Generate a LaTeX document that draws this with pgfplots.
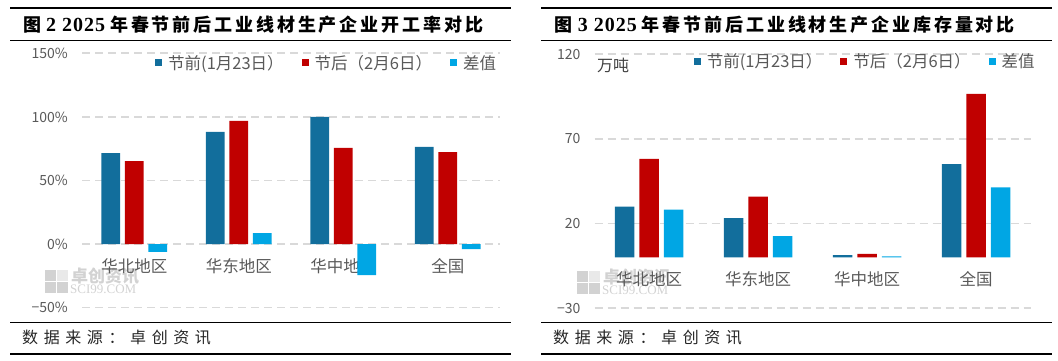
\documentclass[border=0pt]{standalone}
\usepackage{fontspec}
\usepackage{pgfplots}
\pgfplotsset{compat=1.18}
\setmainfont{Noto Sans CJK SC}
\newfontfamily\cjk{Noto Sans CJK SC}
\newfontfamily\titlecjk[LetterSpace=16]{Noto Sans CJK SC}
\newfontfamily\titlenum[LetterSpace=5]{Liberation Serif}
\newfontfamily\srcfont[LetterSpace=35]{Noto Sans CJK SC}
\newfontfamily\wmserif{Liberation Serif}
\definecolor{cblue}{HTML}{126E9C}
\definecolor{cred}{HTML}{C00000}
\definecolor{ccyan}{HTML}{00A6E4}
\definecolor{gridgray}{HTML}{D9D9D9}
\definecolor{txtgray}{HTML}{595959}
\definecolor{wm}{HTML}{D2D2D2}
\pgfplotsset{
  mybars/.style={
    scale only axis, anchor=south west,
    xmin=-0.5, xmax=3.5,
    axis line style={draw=none}, tick style={draw=none}, major tick length=0pt,
    xtick={0,1,2,3}, xticklabels={华北地区,华东地区,华中地区,全国},
    ymajorgrids, grid style={gridgray, line width=1.6pt, dash pattern=on 8pt off 5pt},
    yticklabel style={font=\fontsize{14}{14}\selectfont, text=txtgray, inner sep=0pt, anchor=east, xshift=-14pt},
    xticklabel style={font=\fontsize{16.5}{16.5}\selectfont, text=txtgray, inner sep=0pt, anchor=north},
    legend columns=3,
    legend style={draw=none, fill=none, inner sep=0pt, anchor=west,
      font=\fontsize{16.5}{16.5}\selectfont, text=txtgray,
      nodes={inner sep=0pt},
      /tikz/every odd column/.append style={column sep=6pt},
      /tikz/every even column/.append style={column sep=18pt}},
    legend image code/.code={\fill[##1] (0pt,-3.5pt) rectangle (7pt,3.5pt);},
    clip=false,
  },
}
\begin{document}
\begin{tikzpicture}[x=1pt,y=1pt]
% rules
\foreach \yy in {8,40.3,322.3,354} {
  \draw[black, line width=1.3pt] (10,361-\yy) -- (511,361-\yy);
  \draw[black, line width=1.3pt] (541,361-\yy) -- (1052,361-\yy);
}
% titles
\node[anchor=west, inner sep=0pt, font=\fontsize{18}{18}\selectfont] at (23,361-25)
  {\titlecjk\bfseries 图\hspace{5pt}{\titlenum\bfseries\fontsize{20}{20}\selectfont 2}\hspace{6pt}{\titlenum\bfseries\fontsize{20}{20}\selectfont 2025}\hspace{5pt}年春节前后工业线材生产企业开工率对比};
\node[anchor=west, inner sep=0pt, font=\fontsize{18}{18}\selectfont] at (554.7,361-25)
  {\titlecjk\bfseries 图\hspace{5pt}{\titlenum\bfseries\fontsize{20}{20}\selectfont 3}\hspace{6pt}{\titlenum\bfseries\fontsize{20}{20}\selectfont 2025}\hspace{5pt}年春节前后工业线材生产企业库存量对比};
% sources
\node[anchor=west, inner sep=0pt, font=\fontsize{16}{16}\selectfont, text=black!85] at (22,361-338) {\srcfont 数据来源：卓创资讯};
\node[anchor=west, inner sep=0pt, font=\fontsize{16}{16}\selectfont, text=black!85] at (553,361-338) {\srcfont 数据来源：卓创资讯};
% watermarks
\foreach \ox/\oy in {45/270, 577/271} {
  \fill[wm] (\ox,361-\oy) rectangle (\ox+11,361-\oy-11);
  \fill[wm!50] (\ox+12,361-\oy) rectangle (\ox+23,361-\oy-11);
  \fill[wm] (\ox,361-\oy-12) rectangle (\ox+11,361-\oy-23);
  \fill[wm] (\ox+12,361-\oy-12) rectangle (\ox+23,361-\oy-23);
  \node[anchor=west, inner sep=0pt, text=wm, font=\fontsize{17}{17}\selectfont\bfseries] at (\ox+26,361-\oy-6) {卓创资讯};
  \node[anchor=west, inner sep=0pt, text=wm, font=\fontsize{13}{13}\selectfont\wmserif] at (\ox+25,361-\oy-19) {SCI99.COM};
}
% left chart
\begin{axis}[mybars,
  at={(82pt,53.3pt)}, width=418pt, height=254.4pt,
  ymin=-50, ymax=150,
  ytick={-50,0,50,100,150}, yticklabels={−50\%,0\%,50\%,100\%,150\%},
  xticklabel style={yshift=49pt},
  legend style={at={(0.1746,0.962)}},
]
\addplot[ybar, bar width=0.179, bar shift=-0.225, fill=cblue, draw=none] coordinates {(0,71.5) (1,88.2) (2,100.0) (3,76.4)};
\addplot[ybar, bar width=0.179, bar shift=0, fill=cred, draw=none] coordinates {(0,65.3) (1,96.9) (2,75.6) (3,72.4)};
\addplot[ybar, bar width=0.179, bar shift=0.225, fill=ccyan, draw=none] coordinates {(0,-6.2) (1,8.7) (2,-24.4) (3,-4.0)};
\legend{节前(1月23日）,节后（2月6日）,差值}
\end{axis}
% right chart
\begin{axis}[mybars,
  at={(594.7pt,52.7pt)}, width=436pt, height=254pt,
  ymin=-30, ymax=120,
  ytick={-30,20,70,120}, yticklabels={−30,20,70,120},
  xticklabel style={yshift=37.3pt},
  legend style={at={(0.227,0.971)}},
]
\addplot[ybar, bar width=0.179, bar shift=-0.225, fill=cblue, draw=none] coordinates {(0,30.0) (1,23.3) (2,1.4) (3,55.2)};
\addplot[ybar, bar width=0.179, bar shift=0, fill=cred, draw=none] coordinates {(0,58.2) (1,35.9) (2,2.1) (3,96.6)};
\addplot[ybar, bar width=0.179, bar shift=0.225, fill=ccyan, draw=none] coordinates {(0,28.2) (1,12.6) (2,0.7) (3,41.4)};
\legend{节前(1月23日）,节后（2月6日）,差值}
\end{axis}
\node[anchor=west, inner sep=0pt, font=\fontsize{16}{16}\selectfont, text=black!75] at (597,361-65) {万吨};
\pgfresetboundingbox
\path[use as bounding box] (0,0) rectangle (1058,361);
\end{tikzpicture}
\end{document}
